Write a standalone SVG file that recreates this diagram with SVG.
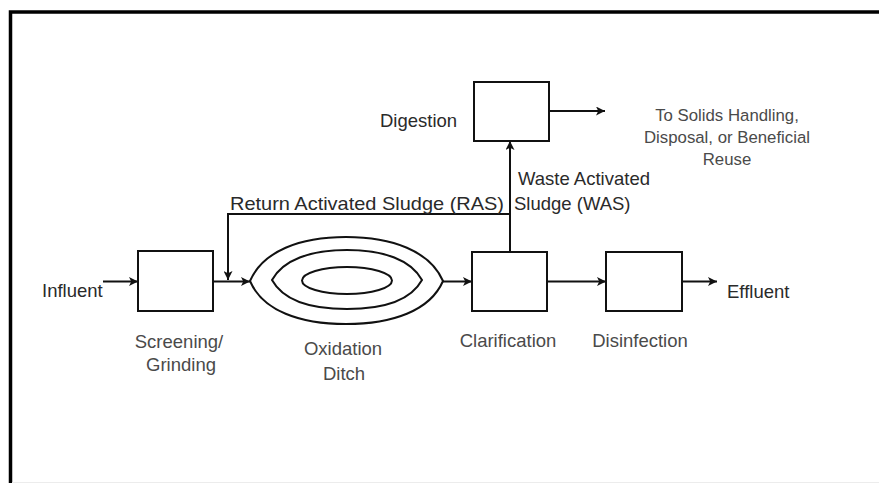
<svg xmlns="http://www.w3.org/2000/svg" width="879" height="483" viewBox="0 0 879 483">
<style>
.box{fill:#fff;stroke:#111;stroke-width:2}
.ditch{fill:none;stroke:#111;stroke-width:2}
.conn{fill:none;stroke:#111;stroke-width:2}
.t{font-family:"Liberation Sans",Arial,sans-serif;font-size:18.5px;fill:#2a2a2a}
.lbl{fill:#4a4a4a}
.sm{font-size:16.8px}
.m{text-anchor:middle}
</style>
<defs>
<marker id="ah" viewBox="0 0 10 10" refX="10" refY="5" markerWidth="10" markerHeight="9" orient="auto" markerUnits="userSpaceOnUse">
<path d="M0,0 L10,5 L0,10 L2.5,5 Z" fill="#111"/>
</marker>
</defs>
<rect width="879" height="483" fill="#fff"/>
<path d="M10.5,483 V12 H879" fill="none" stroke="#000" stroke-width="3.5"/>
<line x1="12" y1="482.5" x2="879" y2="482.5" stroke="#ececec" stroke-width="1"/>

<g id="connectors">
<line class="conn" x1="103" y1="281.5" x2="138" y2="281.5" marker-end="url(#ah)"/>
<line class="conn" x1="213" y1="281.5" x2="250" y2="281.5" marker-end="url(#ah)"/>
<polyline class="conn" points="510,214 228,214 228,280" marker-end="url(#ah)"/>
<line class="conn" x1="510" y1="252" x2="510" y2="141" marker-end="url(#ah)"/>
<line class="conn" x1="443" y1="281.5" x2="472" y2="281.5" marker-end="url(#ah)"/>
<line class="conn" x1="547" y1="281.5" x2="606" y2="281.5" marker-end="url(#ah)"/>
<line class="conn" x1="682" y1="281.5" x2="717" y2="281.5" marker-end="url(#ah)"/>
<line class="conn" x1="549" y1="111" x2="605" y2="111" marker-end="url(#ah)"/>
<text class="t" x="230" y="210" textLength="274" lengthAdjust="spacingAndGlyphs">Return Activated Sludge (RAS)</text>
<text class="t" x="518" y="185">Waste Activated</text>
<text class="t" x="514" y="210">Sludge (WAS)</text>
</g>

<g id="influent">
<text class="t" x="42" y="297">Influent</text>
</g>

<g id="screening">
<rect class="box" x="138" y="251" width="75" height="60"/>
<text class="t lbl m" x="179" y="348">Screening/</text>
<text class="t lbl m" x="181" y="371">Grinding</text>
</g>

<g id="oxidation-ditch">
<path class="ditch" d="M250,281 C263,251 300,237 346,237 C392,237 430,251 443,281 C430,311 392,324 346,324 C300,324 263,311 250,281 Z"/>
<path class="ditch" d="M272,280 C283,260 310,250 347,250 C384,250 411,260 422,280 C411,300 384,309 347,309 C310,309 283,300 272,280 Z"/>
<ellipse class="ditch" cx="347" cy="280.5" rx="45" ry="13.5"/>
<text class="t lbl m" x="343" y="355">Oxidation</text>
<text class="t lbl m" x="344" y="380">Ditch</text>
</g>

<g id="clarification">
<rect class="box" x="472" y="252" width="75" height="59"/>
<text class="t lbl m" x="508" y="347">Clarification</text>
</g>

<g id="disinfection">
<rect class="box" x="606" y="252" width="76" height="59"/>
<text class="t lbl m" x="640" y="347">Disinfection</text>
</g>

<g id="effluent">
<text class="t" x="727" y="298">Effluent</text>
</g>

<g id="digestion">
<rect class="box" x="474" y="82" width="75" height="59"/>
<text class="t" x="380" y="127">Digestion</text>
</g>

<g id="solids-handling">
<text class="t lbl sm m" x="727" y="121">To Solids Handling,</text>
<text class="t lbl sm m" x="727" y="143">Disposal, or Beneficial</text>
<text class="t lbl sm m" x="727" y="165">Reuse</text>
</g>
</svg>
